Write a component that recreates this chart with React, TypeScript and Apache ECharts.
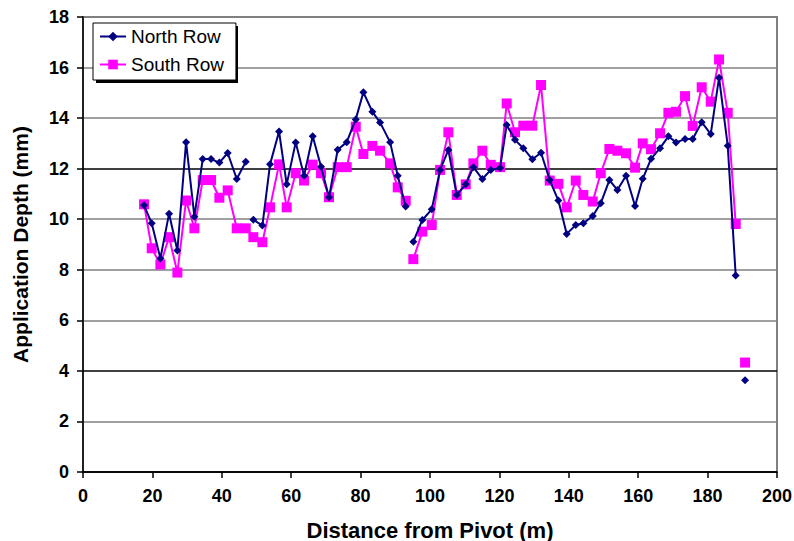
import React, { useEffect, useRef } from "react";
import * as echarts from "echarts";

// Distance from pivot (m) for each measurement position
const distances = [
  17.6, 19.8, 22.3, 24.8, 27.2, 29.7, 32.1, 34.5, 36.9, 39.3, 41.7, 44.3,
  46.9, 49.1, 51.7, 53.9, 56.5, 58.7, 61.3, 63.7, 66.2, 68.6, 70.9, 73.4,
  76.0, 78.6, 80.8, 83.4, 85.6, 88.5, 90.7, 93.0, 95.2, 97.8, 100.5, 102.9,
  105.3, 107.7, 110.3, 112.5, 115.1, 117.5, 120.2, 122.1, 124.5, 126.9, 129.5, 132.0,
  134.5, 137.0, 139.4, 142.0, 144.2, 146.9, 149.2, 151.7, 154.0, 156.5, 159.1, 161.3,
  163.7, 166.3, 168.7, 170.9, 173.5, 175.7, 178.3, 180.9, 183.3, 185.8, 188.1, 190.8,
];

const northRow = [
  10.55, 9.84, 8.45, 10.22, 8.76, 13.05, 10.1, 12.38, 12.38, 12.24, 12.62, 11.59,
  12.27, 9.98, 9.75, 12.17, 13.47, 11.38, 13.04, 11.72, 13.28, 12.08, 10.87, 12.75,
  13.05, 13.95, 15.02, 14.25, 13.83, 13.05, 11.72, 10.5, 9.11, 9.97, 10.39, 11.95,
  12.74, 10.96, 11.38, 12.06, 11.59, 11.95, 12.03, 13.73, 13.14, 12.81, 12.37, 12.63,
  11.55, 10.74, 9.42, 9.77, 9.84, 10.13, 10.63, 11.55, 11.16, 11.72, 10.52, 11.6,
  12.39, 12.81, 13.28, 13.04, 13.17, 13.17, 13.84, 13.37, 15.6, 12.91, 7.77, 3.63,
];

const southRow = [
  10.59, 8.85, 8.21, 9.29, 7.89, 10.74, 9.64, 11.55, 11.55, 10.85, 11.14, 9.64,
  9.64, 9.29, 9.09, 10.47, 12.17, 10.47, 11.82, 11.53, 12.16, 11.82, 10.87, 12.06,
  12.06, 13.66, 12.58, 12.9, 12.71, 12.21, 11.26, 10.73, 8.42, 9.51, 9.77, 11.95,
  13.44, 10.96, 11.38, 12.21, 12.71, 12.15, 12.06, 14.58, 13.44, 13.7, 13.7, 15.31,
  11.53, 11.4, 10.47, 11.53, 10.96, 10.7, 11.82, 12.78, 12.71, 12.61, 12.04, 13.0,
  12.77, 13.4, 14.21, 14.25, 14.87, 13.69, 15.22, 14.65, 16.32, 14.21, 9.81, 4.33,
];

// Line breaks: the line is not drawn between index i and i+1
const northBreaks = [12, 31, 70];
const southBreaks = [31, 70];

const seriesNames = ["North Row", "South Row"];
const xTicks = { min: 0, max: 200, interval: 20 };
const yTicks = { min: 0, max: 18, interval: 2 };

function buildData(values: number[], breaks: number[]) {
  const out: any[] = [];
  values.forEach((v, i) => {
    out.push([distances[i], v]);
    if (breaks.includes(i) && i + 1 < values.length) {
      out.push([(distances[i] + distances[i + 1]) / 2, "-"]);
    }
  });
  return out;
}

export default function App() {
  const ref = useRef<HTMLDivElement>(null);
  useEffect(() => {
    document.body.style.margin = "0";
    if (!ref.current) return;
    const chart = echarts.init(ref.current, undefined, { renderer: "svg" });
    const font = "Liberation Sans, Arial, sans-serif";
    chart.setOption({
      animation: false,
      backgroundColor: "#ffffff",
      textStyle: { fontFamily: font },
      grid: {
        left: 83,
        right: 17,
        top: 17,
        bottom: 69,
        containLabel: false,
        outerBoundsMode: "none",
        show: true,
        borderColor: "#808080",
        borderWidth: 2,
        backgroundColor: "transparent",
      },
      graphic: [
        {
          type: "rect",
          z: 1,
          shape: { x: 96, y: 26, width: 142, height: 57 },
          style: { fill: "#000000" },
        },
      ],
      legend: {
        z: 5,
        orient: "vertical",
        left: 93,
        top: 23,
        padding: [4, 12, 6, 6],
        itemGap: 9,
        itemWidth: 26,
        itemHeight: 12,
        backgroundColor: "#ffffff",
        borderColor: "#000000",
        borderWidth: 1,
        textStyle: { fontSize: 19, color: "#000000", fontFamily: font },
        data: seriesNames,
      },
      xAxis: {
        type: "value",
        min: xTicks.min,
        max: xTicks.max,
        interval: xTicks.interval,
        name: "Distance from Pivot (m)",
        nameLocation: "middle",
        nameGap: 47,
        nameTextStyle: { fontSize: 22, fontWeight: "bold", color: "#000", fontFamily: font },
        axisLine: { show: true, lineStyle: { color: "#000", width: 1.5 } },
        axisTick: { show: true, length: 6, lineStyle: { color: "#000", width: 1.5 } },
        axisLabel: { fontSize: 18, fontWeight: "bold", color: "#000", margin: 15, fontFamily: font },
        splitLine: { show: false },
      },
      yAxis: {
        type: "value",
        min: yTicks.min,
        max: yTicks.max,
        interval: yTicks.interval,
        name: "Application Depth (mm)",
        nameLocation: "middle",
        nameGap: 52,
        nameTextStyle: { fontSize: 21, fontWeight: "bold", color: "#000", fontFamily: font },
        axisLine: { show: true, lineStyle: { color: "#000", width: 1.5 } },
        axisTick: { show: true, length: 6, lineStyle: { color: "#000", width: 1.5 } },
        axisLabel: { fontSize: 18, fontWeight: "bold", color: "#000", margin: 14, fontFamily: font },
        splitLine: {
          show: true,
          lineStyle: {
            width: 1.5,
            color: [
              "#000000", "#808080", "#000000", "#808080", "#808080",
              "#808080", "#000000", "#808080", "#808080", "#808080",
            ],
          },
        },
      },
      series: [
        {
          name: seriesNames[0],
          type: "line",
          data: buildData(northRow, northBreaks),
          connectNulls: false,
          symbol: "diamond",
          symbolSize: 8,
          showAllSymbol: true,
          z: 3,
          lineStyle: { color: "#000080", width: 2 },
          itemStyle: { color: "#000080" },
        },
        {
          name: seriesNames[1],
          type: "line",
          data: buildData(southRow, southBreaks),
          connectNulls: false,
          symbol: "rect",
          symbolSize: 10,
          showAllSymbol: true,
          z: 2,
          lineStyle: { color: "#FF00FF", width: 2 },
          itemStyle: { color: "#FF00FF" },
        },
      ],
    });
    return () => chart.dispose();
  }, []);
  return <div ref={ref} style={{ width: 794, height: 541 }} />;
}
